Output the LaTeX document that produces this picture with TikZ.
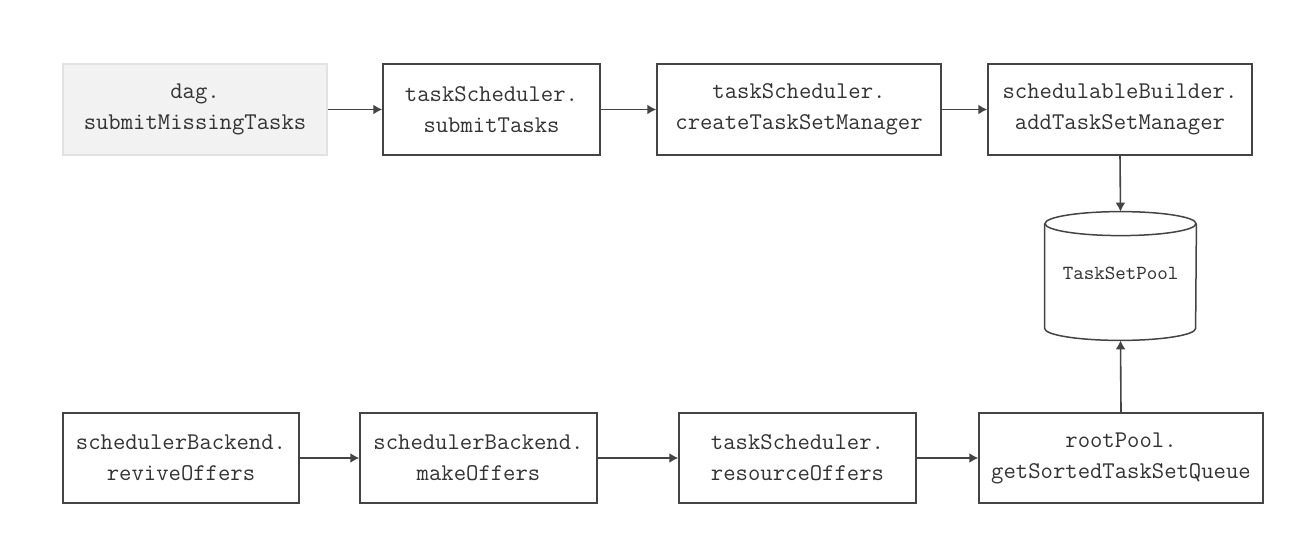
\documentclass[tikz,border=0pt]{standalone}
\usepackage{fontspec}
\usetikzlibrary{arrows.meta,calc}
\definecolor{ink}{HTML}{333333}
\definecolor{edge}{HTML}{444444}
\definecolor{startfill}{HTML}{F2F2F2}
\definecolor{startedge}{HTML}{E2E2E2}
\tikzset{
  x=0.5pt, y=-0.5pt,
  fnbox/.style={draw=edge, line width=0.75pt, fill=white, inner sep=0pt, align=center,
    text=ink, font=\ttfamily\fontsize{12}{15.5}\selectfont},
  startbox/.style={fnbox, draw=startedge, fill=startfill},
  flow/.style={draw=edge, line width=0.8pt, -{Latex[length=4.5pt,width=5pt]}},
}
\begin{document}
\begin{tikzpicture}
\useasboundingbox (0,0) rectangle (1294,552);
\fill[white] (0,0) rectangle (1294,552);
% top row
\node[startbox, minimum width=132pt, minimum height=45.5pt] (dag) at (195,109.5) {dag.\\submitMissingTasks};
\node[fnbox, minimum width=108.5pt, minimum height=45.5pt] (submit) at (491.5,109.5) {taskScheduler.\\submitTasks};
\node[fnbox, minimum width=142pt, minimum height=45.5pt] (create) at (799,109.5) {taskScheduler.\\createTaskSetManager};
\node[fnbox, minimum width=132pt, minimum height=45.5pt] (add) at (1120,109.5) {schedulableBuilder.\\addTaskSetManager};
% pool cylinder
\node[inner sep=0pt, minimum width=75.5pt, minimum height=64pt] (pool) at (1120.5,276) {};
\draw[draw=edge, line width=0.75pt, fill=white] ($(pool.north west)+(0,-6pt)$) -- ($(pool.south west)+(0,6pt)$)
  arc[start angle=180, end angle=360, x radius=37.75pt, y radius=6pt] -- ($(pool.north east)+(0,-6pt)$);
\draw[draw=edge, line width=0.75pt, fill=white] ($(pool.north)+(0,-6pt)$) ellipse [x radius=37.75pt, y radius=6pt];
\node[text=ink, font=\ttfamily\fontsize{10}{12}\selectfont] (poollabel) at ($(pool.center)+(0,1.5pt)$) {TaskSetPool};
% bottom row
\node[fnbox, minimum width=118pt, minimum height=45pt] (revive) at (181,458) {schedulerBackend.\\reviveOffers};
\node[fnbox, minimum width=118.5pt, minimum height=45pt] (make) at (478.5,458) {schedulerBackend.\\makeOffers};
\node[fnbox, minimum width=118.5pt, minimum height=45pt] (resource) at (797.5,458) {taskScheduler.\\resourceOffers};
\node[fnbox, minimum width=142pt, minimum height=45pt] (root) at (1121,458) {rootPool.\\getSortedTaskSetQueue};
% connectors
\draw[flow] (dag) -- (submit);
\draw[flow] (submit) -- (create);
\draw[flow] (create) -- (add);
\draw[flow] (add.south) -- (pool.north);
\draw[flow] (revive) -- (make);
\draw[flow] (make) -- (resource);
\draw[flow] (resource) -- (root);
\draw[flow] (root.north) -- (pool.south);
\end{tikzpicture}
\end{document}
